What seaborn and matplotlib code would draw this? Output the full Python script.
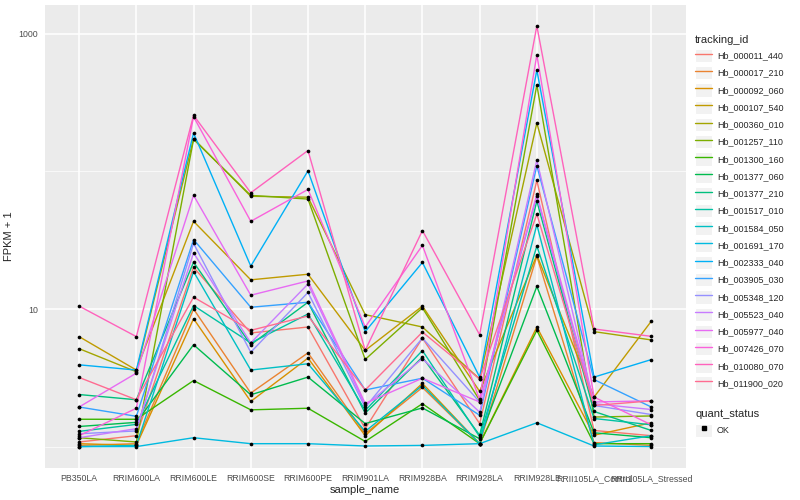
import pandas as pd
from matplotlib import pyplot as plt
from matplotlib.lines import Line2D
from matplotlib.patches import Rectangle
import seaborn as sns

sns.set_theme(style="darkgrid")
plt.rcParams["font.family"] = ["Liberation Sans", "DejaVu Sans"]

samples = ["PB350LA", "RRIM600LA", "RRIM600LE", "RRIM600SE", "RRIM600PE",
           "RRIM901LA", "RRIM928BA", "RRIM928LA", "RRIM928LE",
           "RRII105LA_Control", "RRII105LA_Stressed"]

tracking_ids = ["Hb_000011_440", "Hb_000017_210", "Hb_000092_060", "Hb_000107_540",
                "Hb_000360_010", "Hb_001257_110", "Hb_001300_160", "Hb_001377_060",
                "Hb_001377_210", "Hb_001517_010", "Hb_001584_050", "Hb_001691_170",
                "Hb_002333_040", "Hb_003905_030", "Hb_005348_120", "Hb_005523_040",
                "Hb_005977_040", "Hb_007426_070", "Hb_010080_070", "Hb_011900_020"]

# FPKM + 1, one list per gene, in the order of samples
hb_000011_440 = [1.08, 1.2, 20.1, 6.7, 7.4, 1.35, 6.15, 1.47, 86, 1.31, 1.2]
hb_000017_210 = [1.02, 1.05, 10.0, 2.45, 4.8, 1.24, 2.69, 1.05, 24.2, 1.07, 1.02]
hb_000092_060 = [1.05, 1.02, 8.5, 2.13, 4.4, 1.2, 2.88, 1.05, 7.4, 1.21, 1.49]
hb_000107_540 = [6.3, 3.6, 43.4, 16.3, 17.9, 5.0, 10.5, 2.52, 24.6, 2.29, 8.15]
hb_000360_010 = [5.15, 3.5, 173, 66, 65, 9.1, 7.4, 3.1, 225, 6.85, 5.96]
hb_001257_110 = [1.16, 1.08, 171, 67, 63, 4.3, 10.2, 2.17, 425, 1.64, 1.67]
hb_001300_160 = [1.58, 1.58, 3.02, 1.85, 1.9, 1.09, 2.05, 1.05, 7.0, 1.05, 1.05]
hb_001377_060 = [1.4, 1.5, 5.5, 2.38, 3.2, 1.47, 1.91, 1.14, 14.6, 1.26, 1.16]
hb_001377_210 = [2.39, 2.19, 21.9, 5.5, 11.2, 1.75, 4.47, 1.21, 61, 1.8, 1.31]
hb_001517_010 = [1.29, 1.45, 10.6, 5.67, 9.2, 1.83, 4.99, 1.18, 28.7, 1.6, 1.44]
hb_001584_050 = [1.0, 1.02, 18.7, 3.6, 4.0, 1.29, 2.78, 1.05, 41, 1.03, 1.2]
hb_001691_170 = [1.0, 1.0, 1.16, 1.05, 1.05, 1.01, 1.02, 1.05, 1.49, 1.01, 1.0]
hb_002333_040 = [3.93, 3.6, 190, 20.5, 101, 6.85, 21.8, 3.2, 546, 3.2, 4.29]
hb_003905_030 = [1.94, 1.66, 32, 10.3, 11.2, 2.58, 3.14, 1.69, 110, 3.07, 1.94]
hb_005348_120 = [1.24, 1.3, 30, 4.85, 13.2, 1.93, 6.15, 2.11, 66, 1.99, 1.71]
hb_005523_040 = [1.16, 1.35, 25.6, 5.67, 15.2, 1.99, 4.35, 1.78, 121, 2.05, 1.86]
hb_005977_040 = [1.94, 3.42, 67, 12.6, 16, 2.06, 3.14, 2.11, 68, 2.11, 2.15]
hb_007426_070 = [1.2, 1.9, 250, 43.4, 74, 7.4, 29, 2.2, 704, 2.29, 1.44]
hb_010080_070 = [10.5, 6.3, 256, 70, 142, 5.0, 37.2, 6.5, 1143, 7.16, 6.33]
hb_011900_020 = [3.18, 2.19, 12.2, 7.0, 8.9, 2.58, 6.8, 3.1, 49, 1.99, 2.15]

gene_values = [hb_000011_440, hb_000017_210, hb_000092_060, hb_000107_540,
               hb_000360_010, hb_001257_110, hb_001300_160, hb_001377_060,
               hb_001377_210, hb_001517_010, hb_001584_050, hb_001691_170,
               hb_002333_040, hb_003905_030, hb_005348_120, hb_005523_040,
               hb_005977_040, hb_007426_070, hb_010080_070, hb_011900_020]

# ggplot2 hue palette for 20 levels
colors = ["#F8766D", "#EA8331", "#D89000", "#C09B00", "#A3A500", "#7CAE00",
          "#39B600", "#00BB4E", "#00BF7D", "#00C1A3", "#00BFC4", "#00BAE0",
          "#00B0F6", "#35A2FF", "#9590FF", "#C77CFF", "#E76BF3", "#FA62DB",
          "#FF62BC", "#FF6C91"]

rows = []
for gid, vals in zip(tracking_ids, gene_values):
    for s, v in zip(samples, vals):
        rows.append({"tracking_id": gid, "sample_name": s, "fpkm1": v, "quant_status": "OK"})
df = pd.DataFrame(rows)
df["x"] = df["sample_name"].map({s: i for i, s in enumerate(samples)})

fig, ax = plt.subplots(figsize=(8, 5), dpi=100)
fig.subplots_adjust(left=0.056, right=0.857, top=0.99, bottom=0.065)
ax.set_facecolor("#EBEBEB")

sns.lineplot(data=df, x="x", y="fpkm1", hue="tracking_id", palette=colors,
             hue_order=tracking_ids, sort=False, estimator=None, lw=1,
             legend=False, ax=ax)
ax.scatter(df["x"], df["fpkm1"], s=7, color="black", zorder=5, linewidths=0)

ax.set_yscale("log")
ax.set_ylim(10 ** -0.152, 10 ** 3.21)
ax.set_xlim(-0.6, len(samples) - 0.4)
ax.set_xticks(range(len(samples)))
ax.set_xticklabels(samples)
ax.set_yticks([10, 1000])
ax.set_yticklabels(["10", "1000"])
ax.minorticks_off()
ax.grid(False)
for v in [10, 1000]:
    ax.axhline(v, color="white", lw=1.1, zorder=0)
for v in [1, 100]:
    ax.axhline(v, color="white", lw=0.5, zorder=0)
for i in range(len(samples)):
    ax.axvline(i, color="white", lw=1.1, zorder=0)
for sp in ax.spines.values():
    sp.set_visible(False)
ax.tick_params(axis="both", length=3, color="#333333", labelsize=6.3,
               labelcolor="#4D4D4D", pad=2, width=0.6)
ax.set_xlabel("sample_name", fontsize=8, labelpad=1)
ax.set_ylabel("FPKM + 1", fontsize=8, labelpad=3)

key_bg = dict(facecolor="#F2F2F2", edgecolor="white", lw=0.8)
handles = [(Rectangle((0, 0), 1, 1, **key_bg), Line2D([], [], color=c, lw=1))
           for c in colors]
leg1 = fig.legend(handles, tracking_ids, title="tracking_id", loc="upper left",
                  bbox_to_anchor=(0.869, 0.93), frameon=False, fontsize=6.5,
                  title_fontsize=8, handlelength=1.9, handleheight=1.9,
                  labelspacing=0.43, handletextpad=0.5, borderpad=0,
                  borderaxespad=0, alignment="left")
dot = [(Rectangle((0, 0), 1, 1, **key_bg),
        Line2D([], [], color="black", marker="s", ms=2.2, lw=0))]
leg2 = fig.legend(dot, ["OK"], title="quant_status", loc="upper left",
                  bbox_to_anchor=(0.869, 0.182), frameon=False, fontsize=6.5,
                  title_fontsize=8, handlelength=1.9, handleheight=1.9,
                  handletextpad=0.5, borderpad=0, borderaxespad=0,
                  alignment="left")

fig.savefig("out.png", dpi=100)
